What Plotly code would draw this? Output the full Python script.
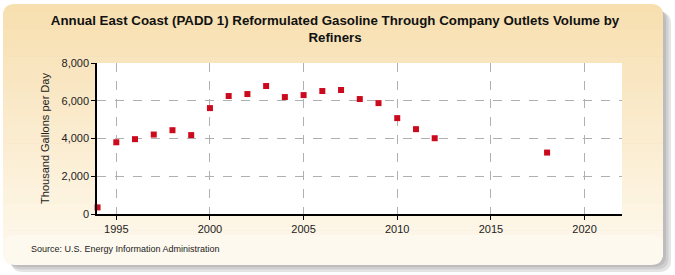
import plotly.graph_objects as go

years = [1994, 1995, 1996, 1997, 1998, 1999, 2000, 2001, 2002, 2003, 2004, 2005,
         2006, 2007, 2008, 2009, 2010, 2011, 2012, 2018]
values = [350, 3800, 3965, 4210, 4440, 4180, 5610, 6250, 6355, 6780, 6195, 6300,
          6515, 6570, 6090, 5875, 5080, 4495, 4015, 3255]

title_text = "Annual East Coast (PADD 1) Reformulated Gasoline Through Company Outlets Volume by<br>Refiners"
y_title = "Thousand Gallons per Day"
source_text = "Source: U.S. Energy Information Administration"
y_ticks = [0, 2000, 4000, 6000, 8000]
x_ticks = [1995, 2000, 2005, 2010, 2015, 2020]

W, H = 675, 275
L, R, T, B = 97, 622, 63, 214


def px(x):
    return (x - L) / (R - L)


def py(y):
    return (B - y) / (B - T)


def rounded(x0, y0, x1, y1, r):
    return (f"M {px(x0 + r)},{py(y0)} L {px(x1 - r)},{py(y0)} "
            f"Q {px(x1)},{py(y0)} {px(x1)},{py(y0 + r)} "
            f"L {px(x1)},{py(y1 - r)} Q {px(x1)},{py(y1)} {px(x1 - r)},{py(y1)} "
            f"L {px(x0 + r)},{py(y1)} Q {px(x0)},{py(y1)} {px(x0)},{py(y1 - r)} "
            f"L {px(x0)},{py(y0 + r)} Q {px(x0)},{py(y0)} {px(x0 + r)},{py(y0)} Z")


shapes = []
# shadow
for i, c in enumerate(["#e4e4e4", "#cfcfcf", "#bdbdbd"]):
    d = 5 - i * 1.5
    shapes.append(dict(type="path", xref="paper", yref="paper", layer="below",
                       path=rounded(3 + d + 3, 4 + d + 3, 663 + d + 3 - i, 265 + d + 2 - i, 12),
                       fillcolor=c, line=dict(width=0)))
# gradient box
top = (247, 223, 176)
bot = (254, 249, 238)
n = 30
y0b, y1b = 4, 265
for i in range(n):
    t = i / (n - 1)
    c = tuple(int(round(top[k] + (bot[k] - top[k]) * t)) for k in range(3))
    ya = y0b + (y1b - y0b) * i / n
    yb = y0b + (y1b - y0b) * (i + 1) / n + 0.6
    if i == 0:
        path = rounded(3, y0b, 663, y0b + 30, 12)
        shapes.append(dict(type="path", xref="paper", yref="paper", layer="below",
                           path=path, fillcolor="rgb(%d,%d,%d)" % c, line=dict(width=0)))
    elif i == n - 1:
        path = rounded(3, y1b - 30, 663, y1b, 12)
        shapes.append(dict(type="path", xref="paper", yref="paper", layer="below",
                           path=path, fillcolor="rgb(%d,%d,%d)" % c, line=dict(width=0)))
    else:
        shapes.append(dict(type="rect", xref="paper", yref="paper", layer="below",
                           x0=px(3), x1=px(663), y0=py(yb), y1=py(ya),
                           fillcolor="rgb(%d,%d,%d)" % c, line=dict(width=0)))
# plot area white
shapes.append(dict(type="rect", xref="paper", yref="paper", layer="below",
                   x0=0, x1=1, y0=0, y1=1, fillcolor="white", line=dict(width=0)))

fig = go.Figure(go.Scatter(
    x=years, y=values, mode="markers",
    marker=dict(symbol="square", size=6, color="#CC0A1E"),
    cliponaxis=False,
))

fig.update_layout(
    width=W, height=H,
    margin=dict(l=L, r=W - R, t=T, b=H - B),
    paper_bgcolor="white",
    plot_bgcolor="rgba(0,0,0,0)",
    shapes=shapes,
    showlegend=False,
    font=dict(family="Liberation Sans, Arial, sans-serif", size=11, color="#222"),
    title=dict(text="<b>" + title_text + "</b>", x=335 / W, xref="container", xanchor="center",
               y=1 - 25 / H, yanchor="middle",
               font=dict(size=13.3, color="#111")),
    annotations=[dict(text=source_text, xref="paper", yref="paper",
                      x=px(29), y=py(249), xanchor="left", yanchor="middle",
                      showarrow=False, font=dict(size=9, color="#222"))],
)
fig.update_xaxes(range=[1993.97, 2022], tickvals=x_ticks, ticktext=[str(v) for v in x_ticks],
                 showgrid=True, gridcolor="#b0b0b0", griddash="dash", gridwidth=1,
                 showline=True, linecolor="black", linewidth=1.5,
                 ticks="outside", ticklen=4, tickcolor="black", zeroline=False,
                 tickfont=dict(size=11))
fig.update_yaxes(range=[0, 8000], tickvals=y_ticks, ticktext=[f"{v:,}" for v in y_ticks],
                 showgrid=True, gridcolor="#b0b0b0", griddash="dash", gridwidth=1,
                 showline=True, linecolor="black", linewidth=1.5,
                 ticks="outside", ticklen=4, tickcolor="black", zeroline=False,
                 title=dict(text=y_title, font=dict(size=11), standoff=10),
                 tickfont=dict(size=11))

fig.write_html("out.html")
